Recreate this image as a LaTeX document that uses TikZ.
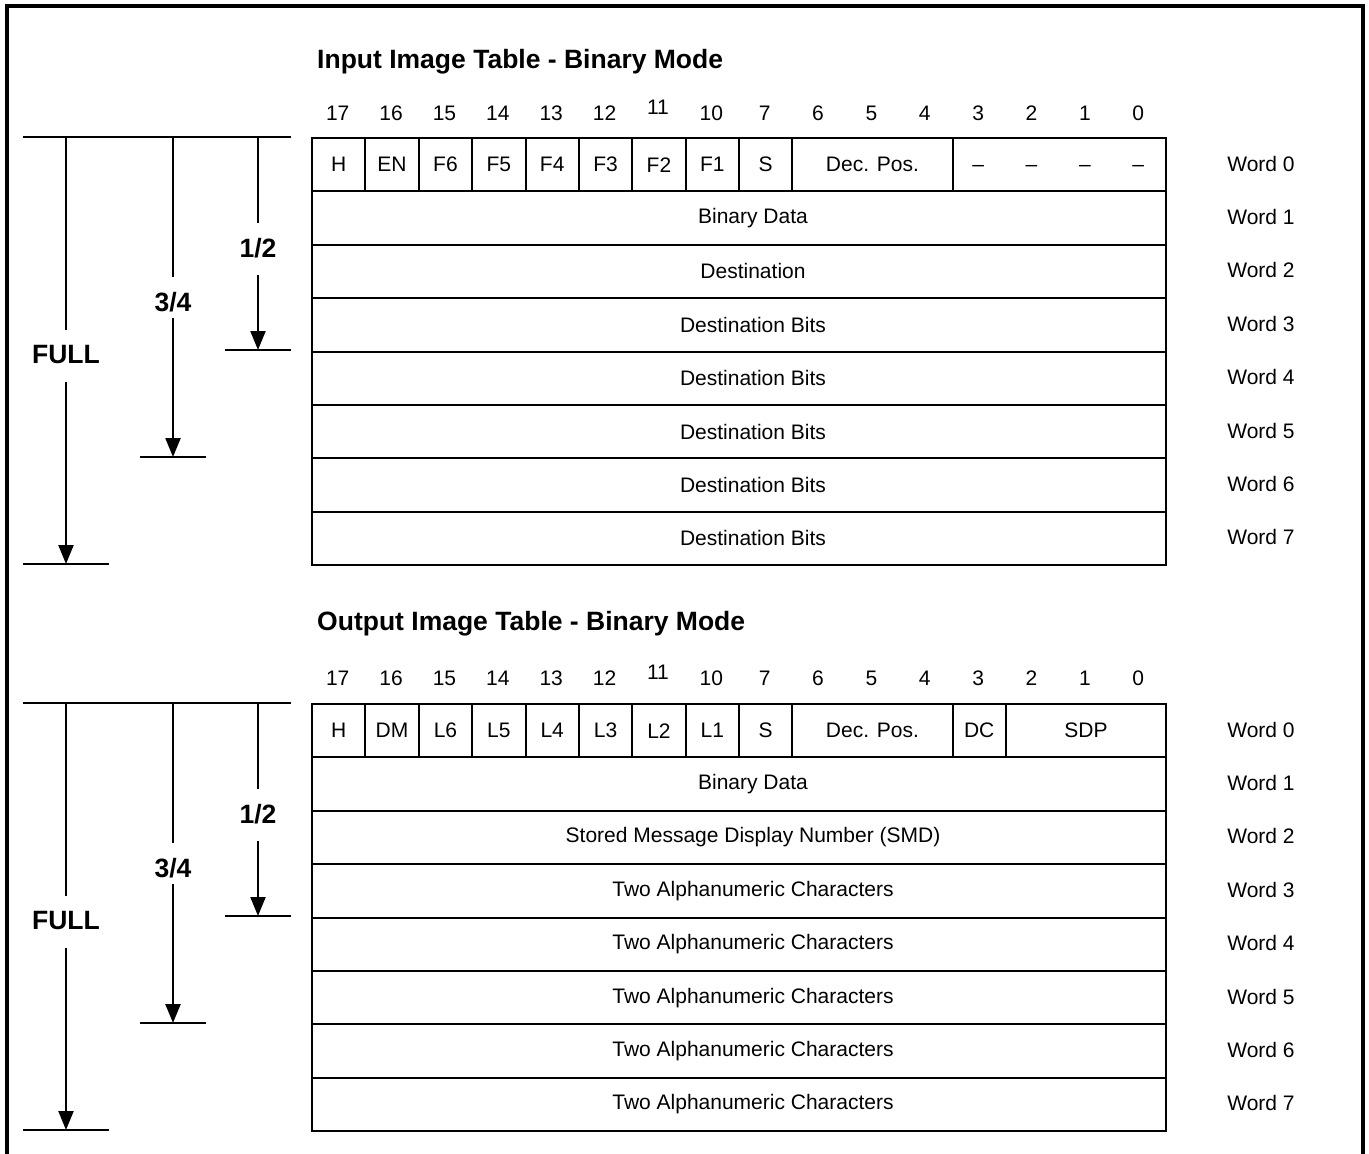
\documentclass[tikz,border=0pt]{standalone}
\usepackage{fontspec}
\setmainfont{Liberation Sans}
\usetikzlibrary{arrows.meta}
\tikzset{
  cell/.style={draw, line width=2pt, minimum height=53.375pt, inner sep=0pt, font=\fontsize{21}{25}\selectfont},
  txt/.style={inner sep=0pt, font=\fontsize{21}{25}\selectfont},
  bitnum/.style={inner sep=0pt, font=\fontsize{21}{25}\selectfont},
  ttl/.style={inner sep=0pt, anchor=west, font=\bfseries\fontsize{26.5}{31}\selectfont},
  frac/.style={inner sep=0pt, font=\bfseries\fontsize{26.5}{31}\selectfont},
  rule/.style={line width=2.2pt},
  arr/.style={line width=2.2pt, -{Triangle[width=15pt,length=19pt]}},
  plain/.style={line width=2.2pt},
  frame/.style={line width=4pt}
}
\newcommand\sizearrows[2]{% #1 prefix, #2 top y
  \coordinate (#1topL) at (23,#2);
  \coordinate (#1topR) at (291,#2);
  \draw[rule] (#1topL) -- (#1topR);
  % FULL
  \coordinate (#1fa) at (66,#2);
  \coordinate (#1fb) at (66,#2+193);
  \node[frac] (#1full) at (66,#2+218) {FULL};
  \coordinate (#1fc) at (66,#2+245);
  \coordinate (#1fd) at (66,#2+427);
  \coordinate (#1fl) at (23,#2+427);
  \coordinate (#1fr) at (109,#2+427);
  \draw[plain] (#1fa) -- (#1fb);
  \draw[arr] (#1fc) -- (#1fd);
  \draw[rule] (#1fl) -- (#1fr);
  % 3/4
  \coordinate (#1ta) at (173,#2);
  \coordinate (#1tb) at (173,#2+140);
  \node[frac] (#1tq) at (173,#2+165) {3/4};
  \coordinate (#1tc) at (173,#2+181);
  \coordinate (#1td) at (173,#2+320);
  \coordinate (#1tl) at (140,#2+320);
  \coordinate (#1tr) at (206,#2+320);
  \draw[plain] (#1ta) -- (#1tb);
  \draw[arr] (#1tc) -- (#1td);
  \draw[rule] (#1tl) -- (#1tr);
  % 1/2
  \coordinate (#1ha) at (258,#2);
  \coordinate (#1hb) at (258,#2+86);
  \node[frac] (#1half) at (258,#2+111) {1/2};
  \coordinate (#1hc) at (258,#2+138);
  \coordinate (#1hd) at (258,#2+213);
  \coordinate (#1hl) at (225,#2+213);
  \coordinate (#1hr) at (291,#2+213);
  \draw[plain] (#1ha) -- (#1hb);
  \draw[arr] (#1hc) -- (#1hd);
  \draw[rule] (#1hl) -- (#1hr);
}
\newcommand\bitrow[2]{% #1 prefix, #2 y
  \foreach \n/\dy [count=\k from 0] in {17/0,16/0,15/0,14/0,13/0,12/0,11/-6,10/0,7/0,6/0,5/0,4/0,3/0,2/0,1/0,0/0}{
    \node[bitnum] (#1bit\k) at ({311+53.375*(\k+0.5)},{#2+1+\dy}) {\n};
  }
}
\newcommand\wordlabels[2]{% #1 prefix, #2 top y
  \foreach \k in {0,...,7}{
    \node[txt] (#1word\k) at (1261,{#2+53.375*(\k+0.5)}) {Word \k};
  }
}
\begin{document}
\begin{tikzpicture}[x=1pt,y=-1pt]
\useasboundingbox (0,0) rectangle (1369,1154);
% frame
\coordinate (frBL) at (7,1160);
\coordinate (frTL) at (7,6);
\coordinate (frTR) at (1363,6);
\coordinate (frBR) at (1363,1160);
\draw[frame] (frBL) -- (frTL) -- (frTR) -- (frBR);

%%%%%%%% INPUT TABLE
\node[ttl] (inTitle) at (317,62) {Input Image Table - Binary Mode};
\bitrow{in}{112}
\foreach \s/\w/\t [count=\c] in {0/1/H,1/1/EN,2/1/F6,3/1/F5,4/1/F4,5/1/F3,6/1/F2,7/1/F1,8/1/S,9/3/Dec. Pos.,12/4/{}}{
  \node[cell, minimum width={53.375*\w*1pt}, anchor=north west] (inC\c) at ({311+53.375*\s},137) {\t};
}
\foreach \k in {12,...,15}{
  \node[txt] (inDash\k) at ({311+53.375*(\k+0.5)},168) {–};
}
\foreach \t [count=\k] in {Binary Data,Destination,Destination Bits,Destination Bits,Destination Bits,Destination Bits,Destination Bits}{
  \node[cell, minimum width=854pt, anchor=north west] (inR\k) at (311,{137+53.375*\k}) {};
  \node[txt] (inT\k) at ([xshift=14pt]inR\k.center) {\t};
}
\wordlabels{in}{137}
\sizearrows{in}{137}

%%%%%%%% OUTPUT TABLE
\node[ttl] (outTitle) at (317,624) {Output Image Table - Binary Mode};
\bitrow{out}{677}
\foreach \s/\w/\t [count=\c] in {0/1/H,1/1/DM,2/1/L6,3/1/L5,4/1/L4,5/1/L3,6/1/L2,7/1/L1,8/1/S,9/3/Dec. Pos.,12/1/DC,13/3/SDP}{
  \node[cell, minimum width={53.375*\w*1pt}, anchor=north west] (outC\c) at ({311+53.375*\s},703) {\t};
}
\foreach \t [count=\k] in {Binary Data,Stored Message Display Number (SMD),Two Alphanumeric Characters,Two Alphanumeric Characters,Two Alphanumeric Characters,Two Alphanumeric Characters,Two Alphanumeric Characters}{
  \node[cell, minimum width=854pt, anchor=north west] (outR\k) at (311,{703+53.375*\k}) {};
  \node[txt] (outT\k) at ([xshift=14pt]outR\k.center) {\t};
}
\wordlabels{out}{703}
\sizearrows{out}{703}
\end{tikzpicture}
\end{document}
